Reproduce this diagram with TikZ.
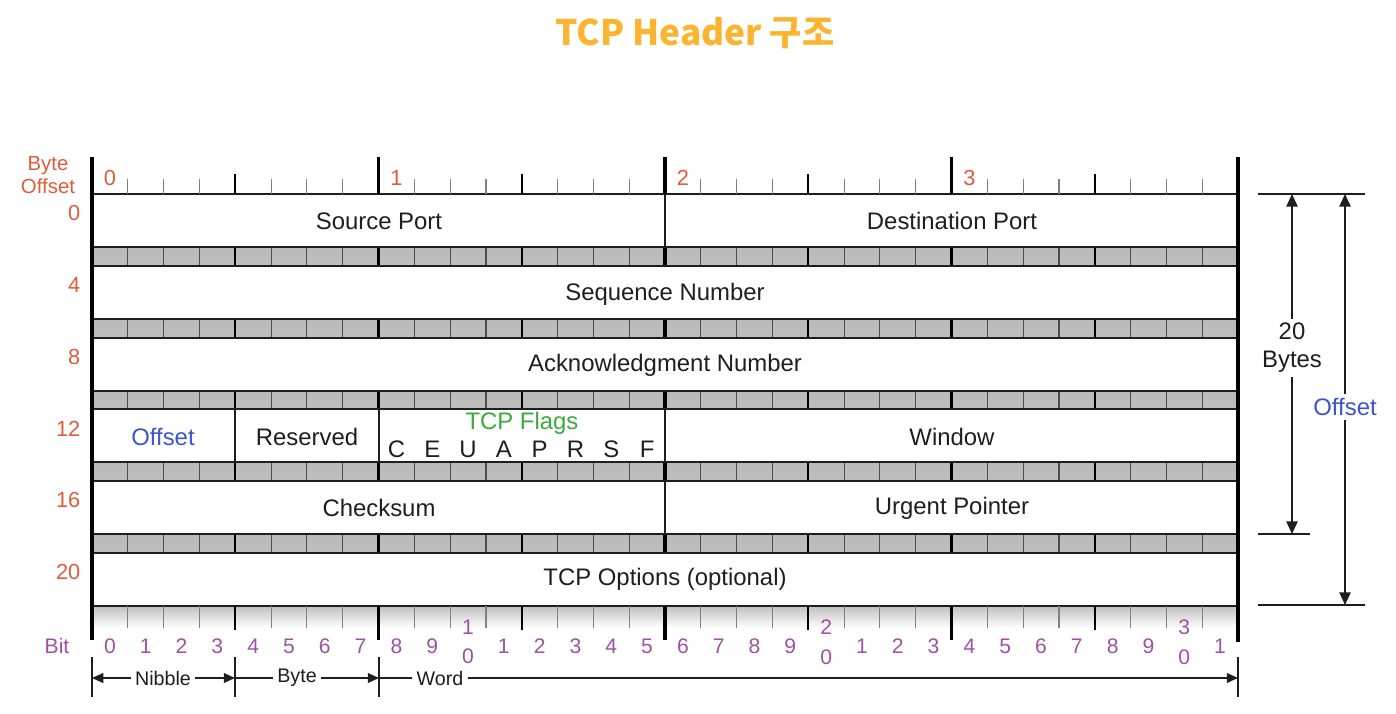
\documentclass[tikz,border=0pt]{standalone}
\usepackage{fontspec}
\setmainfont{Liberation Sans}
\newfontfamily\krfont{Noto Sans CJK KR}
\usetikzlibrary{arrows.meta,positioning}
\definecolor{TitleOrange}{RGB}{251,180,48}
\definecolor{OffsetRed}{RGB}{222,92,60}
\definecolor{BitPurple}{RGB}{160,80,165}
\definecolor{FieldBlue}{RGB}{60,85,200}
\definecolor{FlagGreen}{RGB}{60,170,60}
\definecolor{InkGray}{RGB}{30,30,30}
\tikzset{
  title/.style={font=\krfont\bfseries\fontsize{25}{28}\selectfont, text=TitleOrange},
  field/.style={font=\fontsize{17}{20}\selectfont, text=InkGray, inner sep=1pt},
  offnum/.style={font=\fontsize{15.5}{18}\selectfont, text=OffsetRed, inner sep=1pt},
  bitnum/.style={font=\fontsize{15}{21}\selectfont, text=BitPurple, inner sep=1pt, align=center},
  span/.style={font=\fontsize{14}{16}\selectfont, text=InkGray, fill=white, inner sep=3pt},
  band/.style={top color=gray!55, middle color=gray!15, bottom color=gray!50},
  rowline/.style={draw=InkGray, line width=1.4pt},
  bitline/.style={draw=gray!60!black, line width=0.8pt},
  nibline/.style={draw=black, line width=1.6pt},
  byteline/.style={draw=black, line width=2.2pt},
  sideline/.style={draw=black, line width=3.5pt},
  dimline/.style={draw=InkGray, line width=1pt},
  dimarrow/.style={draw=InkGray, line width=1.2pt, -{Triangle[length=9pt,width=8pt]}},
  spanarrow/.style={draw=InkGray, line width=1pt, -{Triangle[length=8pt,width=7pt]}}
}
\begin{document}
\begin{tikzpicture}[x=0.025cm, y=-0.025cm]
\useasboundingbox (0,0) rectangle (1396,714);
\node[title] (title) at (695,33) {TCP Header 구조};

% separator bands
\foreach \y in {247,318.8,390.6,462.4,534.2}{
  \shade[band] (92,\y) rectangle (1238,\y+18.8);
  \foreach \b in {1,...,31}
    \draw[bitline] ({92+35.8125*\b},\y) -- ({92+35.8125*\b},\y+18.8);
  \foreach \b in {4,12,20,28}
    \draw[nibline] ({92+35.8125*\b},\y) -- ({92+35.8125*\b},\y+18.8);
  \foreach \b in {8,16,24}
    \draw[byteline] ({92+35.8125*\b},\y) -- ({92+35.8125*\b},\y+18.8);
}
\shade[top color=gray!50, bottom color=white] (92,606) rectangle (1238,628);

% row borders
\foreach \y in {194,247,265.8,318.8,337.6,390.6,409.4,462.4,481.2,534.2,553,606}
  \draw[rowline] (92,\y) -- (1238,\y);

% top ruler
\foreach \b in {1,...,31}
  \draw[bitline, gray] ({92+35.8125*\b},179) -- ({92+35.8125*\b},194);
\foreach \b in {4,12,20,28}
  \draw[nibline] ({92+35.8125*\b},174) -- ({92+35.8125*\b},194);
\foreach \b in {8,16,24}
  \draw[byteline] ({92+35.8125*\b},157) -- ({92+35.8125*\b},194);
\foreach \n in {0,...,3}
  \node[offnum] (byte\n) at ({110+286.5*\n},178) {\n};

% bottom ruler
\foreach \b in {1,...,31}
  \draw[bitline, gray] ({92+35.8125*\b},606) -- ({92+35.8125*\b},628);
\foreach \b in {4,12,20,28}
  \draw[nibline] ({92+35.8125*\b},606) -- ({92+35.8125*\b},630);
\foreach \b in {8,24}
  \draw[nibline] ({92+35.8125*\b},606) -- ({92+35.8125*\b},640);
\draw[byteline] ({92+35.8125*16},606) -- ({92+35.8125*16},640);

\draw[sideline] (92,157) -- (92,640);
\draw[sideline] (1238,157) -- (1238,642);

% field dividers
\draw[rowline] (665,194) -- (665,247);
\draw[rowline] (235,409.4) -- (235,462.4);
\draw[rowline] (379,409.4) -- (379,462.4);
\draw[rowline] (665,409.4) -- (665,462.4);
\draw[rowline] (665,481.2) -- (665,534.2);

% fields
\node[field] (srcport) at (379,221) {Source Port};
\node[field] (dstport) at (952,221) {Destination Port};
\node[field] (seqnum) at (665,294) {Sequence Number};
\node[field] (acknum) at (665,365) {Acknowledgment Number};
\node[field, text=FieldBlue] (hdroffset) at (163,437) {Offset};
\node[field] (reserved) at (307,437) {Reserved};
\node[field, text=FlagGreen] (flags) at (522,423) {TCP Flags};
\foreach \f [count=\i from 8] in {C,E,U,A,P,R,S,F}
  \node[field] (flag\f) at ({92+35.8125*(\i+0.5)},449) {\f};
\node[field] (window) at (952,437) {Window};
\node[field] (checksum) at (379,508) {Checksum};
\node[field] (urgent) at (952,508) {Urgent Pointer};
\node[field] (options) at (665,579) {TCP Options (optional)};

% byte offsets
\node[offnum, align=center, font=\fontsize{14.5}{16.5}\selectfont] (byteoff) at (48,175) {Byte\\Offset};
\foreach \o [count=\k from 0] in {0,4,8,12,16,20}
  \node[offnum, anchor=east] (off\o) at (82,{213+71.8*\k}) {\o};

% bit numbers
\node[bitnum] (bitlabel) at (57,646) {Bit};
\foreach \b in {0,...,31}{
  \pgfmathtruncatemacro\d{mod(\b,10)}
  \pgfmathtruncatemacro\t{\b/10}
  \ifnum\b>0 \ifnum\d=0
    \node[bitnum] (bit\b) at ({92+35.8125*(\b+0.5)},642) {\t\\0};
  \else
    \node[bitnum] (bit\b) at ({92+35.8125*(\b+0.5)},646) {\d};
  \fi \else
    \node[bitnum] (bit\b) at ({92+35.8125*(\b+0.5)},646) {\d};
  \fi
}

% nibble / byte / word
\foreach \x [count=\k] in {92,235,379,1238}{
  \coordinate (mt\k) at (\x,657);
  \coordinate (mb\k) at (\x,697);
  \coordinate (m\k) at (\x,678);
  \draw[dimline] (mt\k) -- (mb\k);
}
\node[span] (nibble) at (163,678) {Nibble};
\node[span] (bytespan) at (297,678) {Byte};
\node[span] (word) at (440,678) {Word};
\draw[spanarrow] (nibble.west) -- (m1);
\draw[spanarrow] (nibble.east) -- (m2);
\draw[dimline] (m2) -- (bytespan.west);
\draw[spanarrow] (bytespan.east) -- (m3);
\draw[dimline] (m3) -- (word.west);
\draw[spanarrow] (word.east) -- (m4);

% header length
\coordinate (ta) at (1258,194);
\coordinate (tb) at (1365,194);
\coordinate (ma) at (1258,534);
\coordinate (mb) at (1310,534);
\coordinate (ba) at (1258,605);
\coordinate (bb) at (1365,605);
\draw[dimline] (ta) -- (tb);
\draw[dimline] (ma) -- (mb);
\draw[dimline] (ba) -- (bb);
\node[field, fill=white, align=center, inner sep=3pt] (twenty) at (1292,348) {20\\Bytes};
\node[field, fill=white, text=FieldBlue, inner sep=3pt] (dataoff) at (1345,407) {Offset};
\draw[dimarrow] (twenty.north) -- (1292,194);
\draw[dimarrow] (twenty.south) -- (1292,534);
\draw[dimarrow] (dataoff.north) -- (1345,194);
\draw[dimarrow] (dataoff.south) -- (1345,605);
\end{tikzpicture}
\end{document}
